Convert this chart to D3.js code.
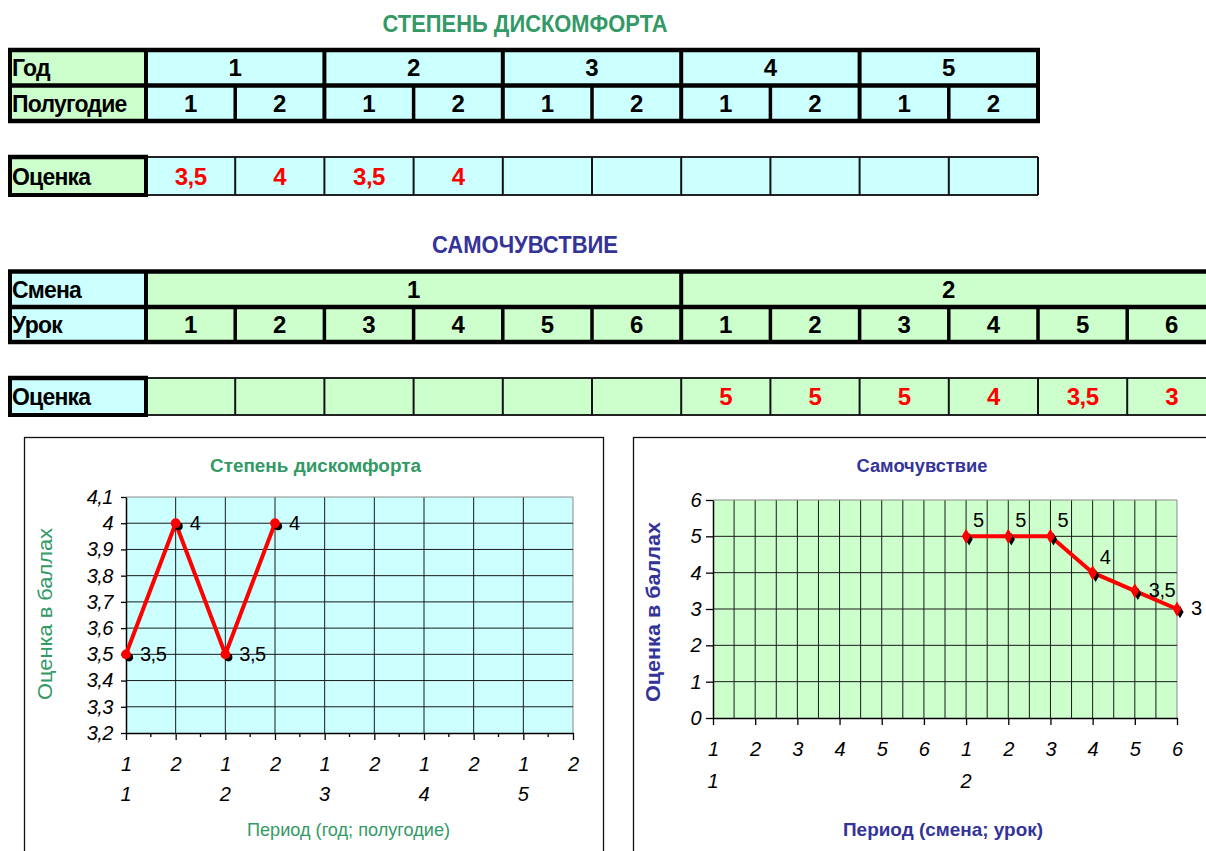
<!DOCTYPE html>
<html>
<head>
<meta charset="utf-8">
<script src="https://cdn.jsdelivr.net/npm/d3@7"></script>
<style>
  body { margin: 0; background: #fff; }
  svg { display: block; font-family: "Liberation Sans", Arial, sans-serif; }
</style>
</head>
<body>
<svg id="sheet" width="1206" height="851"></svg>
<script>
// ---- data ----
const discomfortTitle = "СТЕПЕНЬ ДИСКОМФОРТА";
const discomfortChartTitle = "Степень дискомфорта";
const years = ["1", "2", "3", "4", "5"];
const halfYears = ["1", "2", "1", "2", "1", "2", "1", "2", "1", "2"];
const discomfortScores = [3.5, 4, 3.5, 4, null, null, null, null, null, null];
const discomfortTicks = [3.2, 3.3, 3.4, 3.5, 3.6, 3.7, 3.8, 3.9, 4, 4.1];

const wellbeingTitle = "САМОЧУВСТВИЕ";
const wellbeingChartTitle = "Самочувствие";
const shifts = ["1", "2"];
const lessons = ["1", "2", "3", "4", "5", "6", "1", "2", "3", "4", "5", "6"];
const wellbeingScores = [null, null, null, null, null, null, 5, 5, 5, 4, 3.5, 3];
const wellbeingTicks = [0, 1, 2, 3, 4, 5, 6];

const scoreAxisTitle = "Оценка в баллах";
const discomfortPeriodTitle = "Период (год; полугодие)";
const wellbeingPeriodTitle = "Период (смена; урок)";

// ---- style ----
const GREEN = "#339966", BLUE = "#333399", CYAN = "#ccffff", MINT = "#ccffcc", RED = "#ff0000";
const ru = d3.formatLocale({ decimal: ",", thousands: "\u00a0", grouping: [3], currency: ["", " р."] });
const fmt = ru.format("~g");
const FONT = '"Liberation Sans", Arial, sans-serif';

const svg = d3.select("#sheet");

// ---------- spreadsheet tables ----------
function line(g, x1, y1, x2, y2, w, color) {
  g.append("line").attr("x1", x1).attr("y1", y1).attr("x2", x2).attr("y2", y2)
    .attr("stroke", color || "#000").attr("stroke-width", w);
}
function cellText(g, txt, x, y, opts) {
  const t = g.append("text").attr("x", x).attr("y", y)
    .attr("text-anchor", opts.anchor || "middle")
    .attr("font-size", opts.size || 24).attr("font-weight", "bold")
    .attr("fill", opts.fill || "#000").text(txt);
  if (opts.squeeze) t.attr("letter-spacing", opts.squeeze);
  return t;
}

const LABEL_X0 = 10, LABEL_X1 = 146, COL_W = 89.2;

// Builds a two-row header table plus a separate score row.
function drawTable(cfg) {
  const g = svg.append("g");
  const n = cfg.sub.length;
  const col = d3.scaleLinear().domain([0, n]).range([LABEL_X1, LABEL_X1 + n * COL_W]);
  const xEnd = col(n);
  const [top, mid, bot] = cfg.headerY;
  const [sTop, sBot] = cfg.scoreY;

  // fills
  g.append("rect").attr("x", LABEL_X0).attr("y", top).attr("width", LABEL_X1 - LABEL_X0).attr("height", bot - top).attr("fill", cfg.labelFill);
  g.append("rect").attr("x", LABEL_X1).attr("y", top).attr("width", xEnd - LABEL_X1).attr("height", bot - top).attr("fill", cfg.cellFill);
  g.append("rect").attr("x", LABEL_X0).attr("y", sTop).attr("width", LABEL_X1 - LABEL_X0).attr("height", sBot - sTop).attr("fill", cfg.labelFill);
  g.append("rect").attr("x", LABEL_X1).attr("y", sTop).attr("width", xEnd - LABEL_X1).attr("height", sBot - sTop).attr("fill", cfg.cellFill);

  // header texts
  const lab = { anchor: "start", size: 23, squeeze: -0.8 };
  cellText(g, cfg.labels[0], 12, (top + mid) / 2 + 8.5, lab);
  cellText(g, cfg.labels[1], 12, (mid + bot) / 2 + 8.5, lab);
  const span = n / cfg.top.length;
  cfg.top.forEach((t, i) => cellText(g, t, (col(i * span) + col((i + 1) * span)) / 2, (top + mid) / 2 + 8.5, {}));
  cfg.sub.forEach((t, i) => cellText(g, t, (col(i) + col(i + 1)) / 2, (mid + bot) / 2 + 8.5, {}));

  // header borders
  line(g, LABEL_X0 - 2, top, xEnd + 2, top, 4.5);
  line(g, LABEL_X0, mid, xEnd, mid, 4.5);
  line(g, LABEL_X0 - 2, bot, xEnd + 2, bot, 4.5);
  line(g, LABEL_X0, top, LABEL_X0, bot, 4);
  line(g, LABEL_X1, top, LABEL_X1, bot, 4);
  for (let i = 1; i <= n; i++) {
    const major = i % span === 0;
    line(g, col(i), major ? top : mid, col(i), bot, major ? 4 : 3.5);
  }

  // score row
  cellText(g, cfg.labels[2], 12, (sTop + sBot) / 2 + 8.5, lab);
  cfg.scores.forEach((v, i) => {
    if (v != null) cellText(g, fmt(v), (col(i) + col(i + 1)) / 2, (sTop + sBot) / 2 + 8.5, { fill: RED, squeeze: -0.5 });
  });
  line(g, LABEL_X1, sTop, xEnd, sTop, 2, "#222");
  line(g, LABEL_X1, sBot, xEnd, sBot, 2, "#222");
  for (let i = 1; i <= n; i++) line(g, col(i), sTop, col(i), sBot, 2, "#111");
  line(g, LABEL_X0 - 2, sTop, LABEL_X1 + 2, sTop, 4.5);
  line(g, LABEL_X0 - 2, sBot, LABEL_X1 + 2, sBot, 4);
  line(g, LABEL_X0, sTop, LABEL_X0, sBot, 4);
  line(g, LABEL_X1, sTop, LABEL_X1, sBot, 4);
}

svg.append("text").attr("x", 525).attr("y", 32).attr("text-anchor", "middle")
  .attr("font-size", 23).attr("font-weight", "bold").attr("fill", GREEN)
  .attr("textLength", 285).attr("lengthAdjust", "spacingAndGlyphs").text(discomfortTitle);

drawTable({
  labels: ["Год", "Полугодие", "Оценка"],
  top: years, sub: halfYears, scores: discomfortScores,
  labelFill: MINT, cellFill: CYAN,
  headerY: [50, 85.5, 121], scoreY: [157, 195]
});

svg.append("text").attr("x", 525).attr("y", 253).attr("text-anchor", "middle")
  .attr("font-size", 23).attr("font-weight", "bold").attr("fill", BLUE)
  .attr("textLength", 186).attr("lengthAdjust", "spacingAndGlyphs").text(wellbeingTitle);

drawTable({
  labels: ["Смена", "Урок", "Оценка"],
  top: shifts, sub: lessons, scores: wellbeingScores,
  labelFill: CYAN, cellFill: MINT,
  headerY: [271.5, 307, 342], scoreY: [378, 415]
});

// ---------- line charts ----------
function drawChart(cfg) {
  const g = svg.append("g");
  const { x0, x1, yTop, yBot } = cfg.plot;
  const n = cfg.sub.length;
  const x = d3.scalePoint().domain(d3.range(n)).range([x0, x1]);
  const y = d3.scaleLinear().domain(cfg.domain).range([yBot, yTop]);

  // chart frame
  g.append("rect").attr("x", cfg.frame[0] + 0.5).attr("y", cfg.frame[1] + 0.5)
    .attr("width", cfg.frame[2]).attr("height", cfg.frame[3])
    .attr("fill", "#fff").attr("stroke", "#111").attr("stroke-width", 1.3);

  // plot area
  g.append("rect").attr("x", x0).attr("y", yTop).attr("width", x1 - x0).attr("height", yBot - yTop).attr("fill", cfg.fill);

  // vertical grid
  const vx = [];
  for (let i = 1; i < n; i++) {
    if (cfg.halfGrid) vx.push((x(i - 1) + x(i)) / 2);
    vx.push(x(i));
  }
  g.selectAll(null).data(vx).join("line")
    .attr("x1", d => d).attr("x2", d => d).attr("y1", yTop).attr("y2", yBot)
    .attr("stroke", (d, i) => (i === vx.length - 1 ? "#8a8a8a" : "#1a1a1a")).attr("stroke-width", 1);

  // horizontal grid
  g.selectAll(null).data(cfg.ticks.slice(1)).join("line")
    .attr("x1", x0).attr("x2", x1).attr("y1", d => y(d)).attr("y2", d => y(d))
    .attr("stroke", (d, i, a) => (i === a.length - 1 ? "#8a8a8a" : "#1a1a1a")).attr("stroke-width", 1);

  // y axis
  const ya = g.append("g").attr("transform", `translate(${x0},0)`)
    .call(d3.axisLeft(y).tickValues(cfg.ticks).tickFormat(fmt).tickSize(cfg.yTick).tickSizeOuter(0).tickPadding(cfg.yPad));
  ya.attr("font-size", cfg.tickFont).attr("font-family", FONT);
  ya.select(".domain").attr("stroke", "#000").attr("stroke-width", 1.5);
  ya.selectAll(".tick line").attr("stroke", "#000").attr("stroke-width", 1.3);
  ya.selectAll("text").attr("font-style", "italic").attr("fill", "#000").attr("letter-spacing", -0.5);

  // x axis (inner level: sub-category labels)
  const xa = g.append("g").attr("transform", `translate(0,${yBot})`)
    .call(d3.axisBottom(x).tickFormat(i => cfg.sub[i]).tickSize(7).tickSizeOuter(0).tickPadding(cfg.xPad));
  xa.attr("font-size", cfg.tickFont).attr("font-family", FONT);
  xa.select(".domain").attr("stroke", "#000").attr("stroke-width", 1.5);
  xa.selectAll(".tick line").attr("stroke", "#000").attr("stroke-width", 1.3);
  xa.selectAll("text").attr("font-style", "italic").attr("fill", "#000");
  if (cfg.minorTicks) {
    g.selectAll(null).data(d3.range(n - 1)).join("line")
      .attr("x1", i => (x(i) + x(i + 1)) / 2).attr("x2", i => (x(i) + x(i + 1)) / 2)
      .attr("y1", yBot).attr("y2", yBot + 4).attr("stroke", "#000").attr("stroke-width", 1.3);
  }

  // x axis (outer level: group labels at the first category of each group)
  const span = n / cfg.groups.length;
  g.selectAll(null).data(cfg.groups).join("text")
    .attr("x", (d, i) => x(i * span)).attr("y", cfg.groupY).attr("text-anchor", "middle")
    .attr("font-size", cfg.tickFont).attr("font-style", "italic").text(d => d);

  // series line
  const path = d3.line().defined(d => d != null).x((d, i) => x(i)).y(d => y(d));
  g.append("path").datum(cfg.values).attr("d", path)
    .attr("fill", "none").attr("stroke", RED).attr("stroke-width", 4).attr("stroke-linejoin", "round");

  const pts = cfg.values.map((v, i) => ({ v, i })).filter(d => d.v != null);
  const sym = d3.symbol().type(cfg.marker);
  // dark marker shadow
  g.selectAll(null).data(pts).join("path")
    .attr("d", sym.size(cfg.markerSize * 0.7)())
    .attr("transform", d => `translate(${x(d.i) + 3},${y(d.v) + 3})`).attr("fill", "#000");
  g.selectAll(null).data(pts).join("path")
    .attr("d", sym.size(cfg.markerSize)())
    .attr("transform", d => `translate(${x(d.i)},${y(d.v)})`).attr("fill", RED);

  // value labels
  g.selectAll(null).data(pts).join("text")
    .attr("x", (d, k) => x(d.i) + cfg.labelOffset(k, pts.length)[0])
    .attr("y", (d, k) => y(d.v) + cfg.labelOffset(k, pts.length)[1])
    .attr("font-size", cfg.labelFont).attr("fill", "#000").attr("letter-spacing", -0.5).text(d => fmt(d.v));

  // titles
  g.append("text").attr("x", cfg.title.x).attr("y", cfg.title.y).attr("text-anchor", "middle")
    .attr("font-size", 18).attr("font-weight", "bold").attr("fill", cfg.color)
    .attr("textLength", cfg.title.len).attr("lengthAdjust", "spacingAndGlyphs").text(cfg.title.text);
  g.append("text").attr("x", cfg.xTitle.x).attr("y", cfg.xTitle.y).attr("text-anchor", "middle")
    .attr("font-size", 19).attr("font-weight", cfg.axisWeight).attr("fill", cfg.color)
    .attr("textLength", cfg.xTitle.len).attr("lengthAdjust", "spacingAndGlyphs").text(cfg.xTitle.text);
  g.append("text").attr("transform", `translate(${cfg.yTitle.x},${cfg.yTitle.y}) rotate(-90)`)
    .attr("text-anchor", "middle").attr("dy", "0.35em")
    .attr("font-size", 20).attr("font-weight", cfg.axisWeight).attr("fill", cfg.color)
    .attr("textLength", cfg.yTitle.len).attr("lengthAdjust", "spacingAndGlyphs").text(cfg.yTitle.text);
}

drawChart({
  frame: [24, 437, 579, 430],
  plot: { x0: 126, x1: 573, yTop: 497, yBot: 733 },
  fill: CYAN, color: GREEN, axisWeight: "normal",
  domain: [3.2, 4.1], ticks: discomfortTicks,
  sub: halfYears, groups: years, values: discomfortScores,
  halfGrid: false, minorTicks: true,
  yTick: 5, yPad: 8, xPad: 17, groupY: 801, tickFont: 20, labelFont: 20,
  marker: d3.symbolCircle, markerSize: 75,
  labelOffset: () => [14, 7],
  title: { text: discomfortChartTitle, x: 315.5, y: 472, len: 211 },
  xTitle: { text: discomfortPeriodTitle, x: 348.5, y: 836, len: 203 },
  yTitle: { text: scoreAxisTitle, x: 45, y: 614, len: 172 }
});

drawChart({
  frame: [633, 437, 600, 430],
  plot: { x0: 713, x1: 1177, yTop: 500, yBot: 718 },
  fill: MINT, color: BLUE, axisWeight: "bold",
  domain: [0, 6], ticks: wellbeingTicks,
  sub: lessons, groups: shifts, values: wellbeingScores,
  halfGrid: true, minorTicks: false,
  yTick: 7, yPad: 5, xPad: 17, groupY: 788, tickFont: 20, labelFont: 20,
  marker: d3.symbolDiamond, markerSize: 65,
  labelOffset: (k, m) => (k >= m - 2 ? [14, 6] : [7, -9]),
  title: { text: wellbeingChartTitle, x: 922, y: 472, len: 131 },
  xTitle: { text: wellbeingPeriodTitle, x: 943, y: 836, len: 200 },
  yTitle: { text: scoreAxisTitle, x: 653, y: 612, len: 180 }
});
</script>
</body>
</html>
